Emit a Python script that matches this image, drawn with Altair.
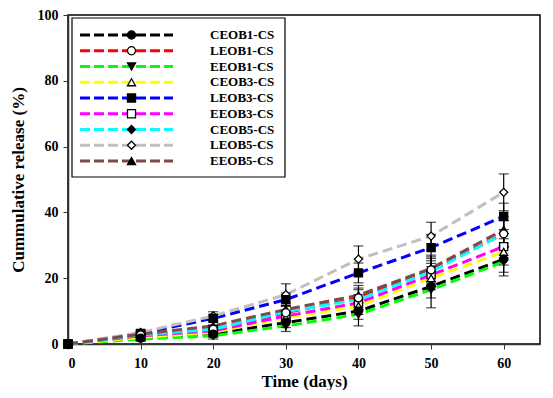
import altair as alt
import pandas as pd

# ---- data ----
days = [0, 10, 20, 30, 40, 50, 60]
series = ["CEOB1-CS", "LEOB1-CS", "EEOB1-CS", "CEOB3-CS", "LEOB3-CS",
          "EEOB3-CS", "CEOB5-CS", "LEOB5-CS", "EEOB5-CS"]
line_colors = ["#000000", "#ff0000", "#00ff00", "#ffff00", "#0000ff",
               "#ff00ff", "#00ffff", "#c0c0c0", "#804848"]
marker_shapes = ["circle", "circle", "triangle-down", "triangle-up", "square",
                 "square", "diamond", "diamond", "triangle-up"]
marker_fills = ["black", "white", "black", "white", "black",
                "white", "black", "white", "black"]

ceob1 = [0, 1.8, 3.0, 6.5, 10.0, 17.5, 25.8]
leob1 = [0, 2.8, 4.5, 9.5, 14.0, 22.5, 33.5]
eeob1 = [0, 1.5, 2.5, 5.5, 9.0, 16.5, 25.0]
ceob3 = [0, 2.0, 3.5, 8.0, 11.5, 20.0, 28.0]
leob3 = [0, 3.2, 7.8, 13.5, 21.6, 29.3, 38.8]
eeob3 = [0, 2.5, 4.0, 8.5, 12.5, 21.0, 29.6]
ceob5 = [0, 2.8, 4.5, 9.8, 13.5, 22.0, 33.5]
leob5 = [0, 3.5, 8.5, 15.0, 25.8, 32.8, 46.1]
eeob5 = [0, 3.0, 5.5, 10.5, 14.8, 23.0, 34.7]

err_ceob1 = [0, 0.7, 1.0, 1.5, 2.5, 3.5, 4.0]
err_leob1 = [0, 0.8, 1.2, 2.0, 3.0, 4.0, 4.0]
err_eeob1 = [0, 0.6, 1.0, 1.7, 3.5, 5.5, 4.3]
err_ceob3 = [0, 0.7, 1.0, 1.5, 2.5, 3.5, 4.0]
err_leob3 = [0, 0.8, 1.2, 2.0, 3.0, 4.0, 4.0]
err_eeob3 = [0, 0.7, 1.0, 1.5, 2.5, 3.5, 4.0]
err_ceob5 = [0, 0.8, 1.2, 2.0, 3.0, 4.0, 4.0]
err_leob5 = [0, 0.8, 1.3, 3.3, 4.0, 4.2, 5.6]
err_eeob5 = [0, 0.8, 1.2, 2.0, 3.0, 4.0, 4.0]

values = [ceob1, leob1, eeob1, ceob3, leob3, eeob3, ceob5, leob5, eeob5]
errors = [err_ceob1, err_leob1, err_eeob1, err_ceob3, err_leob3,
          err_eeob3, err_ceob5, err_leob5, err_eeob5]

x_ticks = [0, 10, 20, 30, 40, 50, 60]
y_ticks = [0, 20, 40, 60, 80, 100]

rows = []
for i, (s, vals, errs) in enumerate(zip(series, values, errors)):
    for d, v, e in zip(days, vals, errs):
        rows.append({"series": s, "idx": i, "day": d, "value": v,
                     "lo": v - e, "hi": v + e})
df = pd.DataFrame(rows)
leg = pd.DataFrame({"series": series})

FONT = "Liberation Serif"
Y_TITLE = "Cummulative release (%)"
X_TITLE = "Time (days)"

color = alt.Color("series:N", scale=alt.Scale(domain=series, range=line_colors), legend=None)
shape = alt.Shape("series:N", scale=alt.Scale(domain=series, range=marker_shapes), legend=None)
fill = alt.Fill("series:N", scale=alt.Scale(domain=series, range=marker_fills), legend=None)

xenc = alt.X("day:Q", scale=alt.Scale(domain=[0, 65], nice=False),
             axis=alt.Axis(values=x_ticks, title=X_TITLE, grid=False))


def yenc(field):
    return alt.Y(f"{field}:Q", scale=alt.Scale(domain=[0, 100], nice=False),
                 axis=alt.Axis(values=y_ticks, title=Y_TITLE, grid=False))


lines = alt.Chart(df).mark_line(strokeDash=[10, 5], strokeWidth=3).encode(
    x=xenc, y=yenc("value"), color=color, order="day:Q")

err_src = alt.Chart(df).transform_filter("datum.day > 0")
bars = err_src.mark_rule(color="black", strokeWidth=1.2).encode(
    x=xenc, y=yenc("lo"), y2="hi:Q")
caps_lo = err_src.mark_tick(orient="horizontal", size=10, thickness=1.2, color="black").encode(
    x=xenc, y=yenc("lo"))
caps_hi = err_src.mark_tick(orient="horizontal", size=10, thickness=1.2, color="black").encode(
    x=xenc, y=yenc("hi"))

points = alt.Chart(df).mark_point(size=65, stroke="black", strokeWidth=1.3,
                                  opacity=1, fillOpacity=1).encode(
    x=xenc, y=yenc("value"), shape=shape, fill=fill,
    order=alt.Order("idx:Q", sort="descending"))

main = alt.layer(lines, bars, caps_lo, caps_hi, points)

# ---- legend drawn inside the plot ----
ly = alt.Y("series:N", scale=alt.Scale(type="point", domain=series, range=[20, 146], padding=0),
           axis=None)
box = alt.Chart(pd.DataFrame({"k": [0]})).mark_rect(
    fill="white", stroke="black", strokeWidth=1.2).encode(
    x=alt.value(4), x2=alt.value(217), y=alt.value(3), y2=alt.value(162))
leg_lines = alt.Chart(leg).mark_rule(strokeWidth=3, strokeDash=[10, 4]).encode(
    x=alt.value(12), x2=alt.value(105), y=ly, color=color)
leg_pts = alt.Chart(leg).mark_point(size=65, stroke="black", strokeWidth=1.3,
                                    opacity=1, fillOpacity=1).encode(
    x=alt.value(63.5), y=ly, shape=shape, fill=fill)
leg_text = alt.Chart(leg).mark_text(align="left", baseline="middle", font=FONT,
                                    fontWeight="bold", fontSize=13, color="black").encode(
    x=alt.value(142), y=ly, text="series:N")
legend_layer = alt.layer(box, leg_lines, leg_pts, leg_text)

chart = alt.layer(main, legend_layer).resolve_scale(y="independent").properties(
    width=472, height=329,
    autosize=alt.AutoSizeParams(type="none"),
    padding={"left": 60, "top": 7, "right": 5, "bottom": 46},
).configure_view(
    stroke="black", strokeWidth=1.5
).configure_axis(
    labelFont=FONT, labelFontWeight="bold", labelFontSize=14, labelColor="black",
    titleFont=FONT, titleFontWeight="bold", titleColor="black",
    tickColor="#333333", tickSize=5, domainColor="#333333", domainWidth=1.5,
).configure_axisY(
    labelPadding=5, titleFontSize=17, titlePadding=10,
).configure_axisX(
    labelPadding=7, titleFontSize=17, titlePadding=3,
)

chart.save("out.html", embed_options={"renderer": "svg", "actions": False})
